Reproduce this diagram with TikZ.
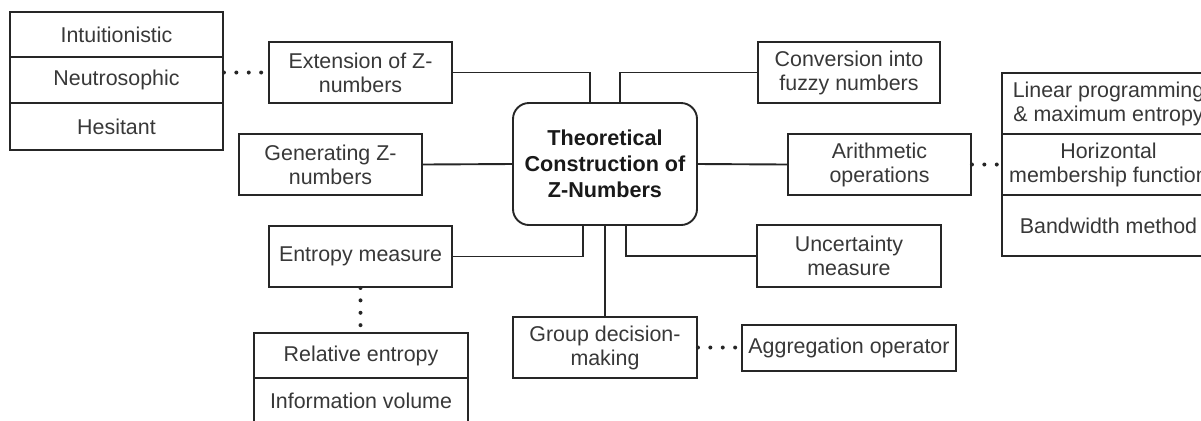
\documentclass[tikz,border=0pt]{standalone}
\usepackage{fontspec}
\setmainfont{Liberation Sans}
\usetikzlibrary{calc}
\begin{document}
\begin{tikzpicture}[x=0.5pt,y=-0.5pt,
  every node/.style={font=\fontsize{10.7}{12}\selectfont, text=black!78},
  box/.style={draw=black!85, line width=0.95pt, align=center, inner sep=0pt, fill=white},
  conn/.style={draw=black!85, line width=0.95pt},
  dots/.style={draw=black!85, line width=2pt, line cap=round, dash pattern=on 0pt off 6.2pt},
  central/.style={box, rounded corners=8pt, font=\fontsize{10.8}{13}\selectfont\bfseries, text=black!90}]
\useasboundingbox (0,0) rectangle (1201,420);
\clip (0,0) rectangle (1201,420);
\fill[white] (0,0) rectangle (1201,420);
% central node
\node[central, minimum width=92pt, minimum height=61pt] (cen) at (605,164) {Theoretical\\Construction of\\Z-Numbers};
% left stack
\node[box, minimum width=106.5pt, minimum height=22.5pt] (int) at (116.5,34.5) {Intuitionistic};
\node[box, minimum width=106.5pt, minimum height=23pt] (neu) at (116.5,80) {Neutrosophic};
\node[box, minimum width=106.5pt, minimum height=23.5pt] (hes) at (116.5,126.5) {Hesitant};
% boxes
\node[box, minimum width=91.5pt, minimum height=30.5pt] (ext) at (360.5,72.5) {Extension of Z-\\numbers};
\node[box, minimum width=91.5pt, minimum height=30.5pt] (gen) at (330.5,164.5) {Generating Z-\\numbers};
\node[box, minimum width=91pt, minimum height=30.5pt] (conv) at (849,72.5) {Conversion into\\fuzzy numbers};
\node[box, minimum width=91.5pt, minimum height=30.5pt] (arith) at (879.5,164.5) {Arithmetic\\operations};
\node[box, minimum width=92pt, minimum height=31pt] (unc) at (849,256) {Uncertainty\\measure};
\node[box, minimum width=91.5pt, minimum height=30.5pt] (ent) at (360.5,256.5) {Entropy measure};
\node[box, minimum width=92pt, minimum height=30.5pt] (grp) at (605,347.5) {Group decision-\\making};
\node[box, minimum width=107pt, minimum height=23pt] (agg) at (849,348) {Aggregation operator};
% right stack
\node[box, minimum width=106.5pt, minimum height=30.5pt] (lin) at (1108.5,103.5) {Linear programming\\\& maximum entropy};
\node[box, minimum width=106.5pt, minimum height=30.5pt] (hor) at (1108.5,164.5) {Horizontal\\membership function};
\node[box, minimum width=106.5pt, minimum height=30.5pt] (band) at (1108.5,225.5) {Bandwidth method};
% bottom stack
\node[box, minimum width=107pt, minimum height=22.5pt] (rel) at (361,355.5) {Relative entropy};
\node[box, minimum width=107pt, minimum height=23pt] (inf) at (361,401) {Information volume};
% connectors
\draw[conn] (ext.east) -| ($(cen.north)+(-15,0)$);
\draw[conn] (conv.west) -| ($(cen.north)+(15,0)$);
\draw[conn] (gen.east) -- (cen.west);
\draw[conn] (cen.east) -- (arith.west);
\draw[conn] (ent.east) -| ($(cen.south)+(-22,0)$);
\draw[conn] (unc.west) -| ($(cen.south)+(21,0)$);
\draw[conn] (cen.south) -- (grp.north);
% dotted links
\draw[dots] (ext.west -| neu.east) -- (ext.west);
\draw[dots] (arith.east) -- (arith.east -| hor.west);
\draw[dots] (grp.east) -- (grp.east -| agg.west);
\draw[dots] (ent.south) -- (ent.south |- rel.north);
\end{tikzpicture}
\end{document}
